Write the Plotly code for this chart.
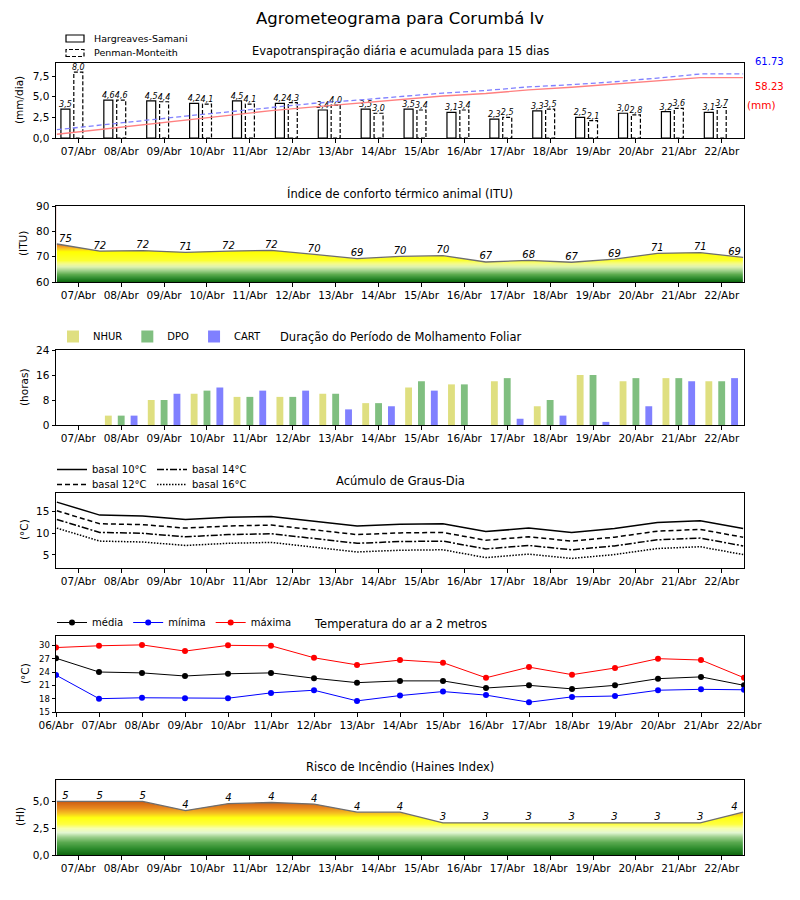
import numpy as np
import plotly.graph_objects as go

W, H = 800, 900
FONT = "DejaVu Sans"

# ---------------- data ----------------
dias = ["07/Abr", "08/Abr", "09/Abr", "10/Abr", "11/Abr", "12/Abr", "13/Abr", "14/Abr",
        "15/Abr", "16/Abr", "17/Abr", "18/Abr", "19/Abr", "20/Abr", "21/Abr", "22/Abr"]
dias_temp = ["06/Abr", "07/Abr", "08/Abr", "09/Abr", "10/Abr", "11/Abr", "12/Abr", "13/Abr",
             "14/Abr", "15/Abr", "16/Abr", "17/Abr", "18/Abr", "19/Abr", "20/Abr", "21/Abr", "22/Abr"]

et_hs = [3.5, 4.6, 4.5, 4.2, 4.5, 4.2, 3.4, 3.5, 3.5, 3.1, 2.3, 3.3, 2.5, 3.0, 3.2, 3.1]
et_pm = [8.0, 4.6, 4.4, 4.1, 4.1, 4.3, 4.0, 3.0, 3.4, 3.4, 2.5, 3.5, 2.1, 2.8, 3.6, 3.7]
acc_pm = [8.0, 12.6, 17.0, 21.1, 25.2, 29.5, 33.5, 36.5, 39.9, 43.3, 45.8, 49.3, 51.4, 54.2, 57.8, 61.73, 61.73]
acc_hs = [3.6, 8.3, 13.0, 17.4, 22.0, 26.4, 30.0, 33.6, 37.2, 40.5, 42.9, 46.3, 48.9, 52.0, 55.3, 58.23, 58.23]
tot_pm = 61.73
tot_hs = 58.23

itu = [75.0, 72.2, 72.4, 71.7, 72.2, 72.5, 70.9, 69.2, 70.1, 70.4, 67.9, 68.5, 67.8, 69.0, 71.3, 71.6, 69.7]

nhur = [0, 3, 8, 10, 9, 9, 10, 7, 12, 13, 14, 6, 16, 14, 15, 14]
dpo = [0, 3, 8, 11, 9, 9, 10, 7, 14, 13, 15, 8, 16, 15, 15, 14]
cart = [0, 3, 10, 12, 11, 11, 5, 6, 11, 0, 2, 3, 1, 6, 14, 15]

gd10 = [17.2, 14.2, 14.0, 13.2, 13.7, 13.9, 12.8, 11.7, 12.1, 12.2, 10.4, 11.2, 10.2, 11.1, 12.5, 12.9, 11.1]
gd12 = [15.2, 12.2, 12.0, 11.2, 11.7, 11.9, 10.8, 9.7, 10.1, 10.2, 8.4, 9.2, 8.2, 9.1, 10.5, 10.9, 9.1]
gd14 = [13.2, 10.2, 10.0, 9.2, 9.7, 9.9, 8.8, 7.7, 8.1, 8.2, 6.4, 7.2, 6.2, 7.1, 8.5, 8.9, 7.1]
gd16 = [11.2, 8.2, 8.0, 7.2, 7.7, 7.9, 6.8, 5.7, 6.1, 6.2, 4.4, 5.2, 4.2, 5.1, 6.5, 6.9, 5.1]

t_med = [27.1, 24.0, 23.8, 23.1, 23.6, 23.8, 22.6, 21.6, 22.0, 22.0, 20.4, 21.0, 20.2, 21.0, 22.5, 22.9, 21.0]
t_min = [23.3, 18.0, 18.2, 18.1, 18.1, 19.3, 19.9, 17.5, 18.7, 19.6, 18.8, 17.2, 18.4, 18.6, 19.9, 20.1, 20.0]
t_max = [29.5, 29.9, 30.1, 28.7, 30.0, 29.9, 27.2, 25.6, 26.7, 26.1, 22.7, 25.1, 23.4, 24.9, 27.0, 26.7, 22.7]

haines = [5.0, 5.0, 5.0, 4.15, 4.8, 4.9, 4.75, 4.0, 4.0, 3.0, 3.0, 3.0, 3.0, 3.0, 3.0, 3.0, 4.0]

# ---------------- helpers ----------------
idx = np.arange(len(dias))                # bar positions (days)
xs17 = np.arange(len(itu)) - 0.5          # series positions
XR = [-0.52, 15.52]


def px_y(py):
    return 1 - py / H


def ydom(top, bottom):
    return [1 - bottom / H, 1 - top / H]


def fmt_c(v):
    return f"{v:.1f}".replace(".", ",")


def outline(xc, h, w):
    xs, ys = [], []
    for x, v in zip(xc, h):
        xs += [x - w / 2, x - w / 2, x + w / 2, x + w / 2, x - w / 2, None]
        ys += [0, v, v, 0, 0, None]
    return xs, ys


def cscale(stops, lo, hi):
    return [[(v - lo) / (hi - lo), c] for v, c in stops]


fig = go.Figure()

# ---------------- panel 1: ET ----------------
ET_TOP = 9.1
ACC_TOP = 72.3
bw = 0.21
hx, hy = outline(idx - 0.3, et_hs, bw)
fig.add_trace(go.Scatter(x=hx, y=hy, mode="lines", fill="toself", fillcolor="white",
                         line=dict(color="black", width=1.2), showlegend=False,
                         hoverinfo="skip", xaxis="x", yaxis="y"))
pxs, pys = outline(idx, et_pm, bw)
fig.add_trace(go.Scatter(x=pxs, y=pys, mode="lines", fill="toself", fillcolor="white",
                         line=dict(color="black", width=1.2, dash="4px,2px"), showlegend=False,
                         hoverinfo="skip", xaxis="x", yaxis="y"))
fig.add_trace(go.Scatter(x=idx - 0.3, y=et_hs, mode="text", text=[fmt_c(v) for v in et_hs],
                         textposition="top center",
                         textfont=dict(family=FONT, size=8, style="italic", color="black"),
                         showlegend=False, hoverinfo="skip", xaxis="x", yaxis="y"))
fig.add_trace(go.Scatter(x=idx, y=et_pm, mode="text", text=[fmt_c(v) for v in et_pm],
                         textposition="top center",
                         textfont=dict(family=FONT, size=8, style="italic", color="black"),
                         showlegend=False, hoverinfo="skip", xaxis="x", yaxis="y"))
fig.add_trace(go.Scatter(x=xs17, y=acc_pm, mode="lines", line=dict(color="#8080ff", width=1.3, dash="5px,3px"),
                         showlegend=False, hoverinfo="skip", xaxis="x", yaxis="y7"))
fig.add_trace(go.Scatter(x=xs17, y=acc_hs, mode="lines", line=dict(color="#ff8080", width=1.3),
                         showlegend=False, hoverinfo="skip", xaxis="x", yaxis="y7"))

# ---------------- panel 2: ITU ----------------
ITU_LO, ITU_HI = 60, 90
itu_stops = [(60, "#0b650b"), (61.5, "#2f8c2f"), (63, "#5dab4f"), (64.5, "#9fd08a"),
             (66, "#dcf2b0"), (67.2, "#f4fb90"), (68.5, "#fbff30"), (72, "#ffff00"),
             (73.2, "#f9c623"), (74.5, "#ee8a22"), (76, "#e05a10"), (90, "#b00000")]
yy = np.linspace(ITU_LO, ITU_HI, 301)
fig.add_trace(go.Heatmap(x=[-0.5, 7.5, 15.5], y=yy, z=[[v, v] for v in yy],
                         colorscale=cscale(itu_stops, ITU_LO, ITU_HI), zmin=ITU_LO, zmax=ITU_HI,
                         zsmooth="best", showscale=False, hoverinfo="skip", xaxis="x2", yaxis="y2"))
fig.add_trace(go.Scatter(x=xs17, y=itu, mode="lines", line=dict(width=0), showlegend=False,
                         hoverinfo="skip", xaxis="x2", yaxis="y2"))
fig.add_trace(go.Scatter(x=xs17, y=[ITU_HI] * len(xs17), mode="lines", line=dict(width=0),
                         fill="tonexty", fillcolor="white", showlegend=False, hoverinfo="skip",
                         xaxis="x2", yaxis="y2"))
fig.add_trace(go.Scatter(x=xs17, y=itu, mode="lines", line=dict(color="#6e6e6e", width=1.3),
                         showlegend=False, hoverinfo="skip", xaxis="x2", yaxis="y2"))
fig.add_trace(go.Scatter(x=np.clip(xs17, -0.3, 15.3), y=itu, mode="text",
                         text=[str(int(v)) for v in itu], textposition="top center",
                         textfont=dict(family=FONT, size=10, style="italic", color="black"),
                         showlegend=False, hoverinfo="skip", xaxis="x2", yaxis="y2"))

# ---------------- panel 3: Molhamento ----------------
mw = 0.16
for name, vals, off, col in [("NHUR", nhur, -0.3, "#dfdf80"), ("DPO", dpo, 0.0, "#80bf80"),
                             ("CART", cart, 0.3, "#8080ff")]:
    fig.add_trace(go.Bar(x=idx + off, y=vals, width=mw, name=name, marker=dict(color=col, line=dict(width=0)),
                         legend="legend", hoverinfo="skip", xaxis="x3", yaxis="y3"))

# ---------------- panel 4: Graus-dia ----------------
for name, vals, dash, leg in [("basal 10°C", gd10, "solid", "legend2"), ("basal 12°C", gd12, "5px,3px", "legend3"),
                              ("basal 14°C", gd14, "7px,2px,2px,2px", "legend4"),
                              ("basal 16°C", gd16, "1.5px,1.5px", "legend5")]:
    fig.add_trace(go.Scatter(x=xs17, y=vals, mode="lines", name=name,
                             line=dict(color="black", width=1.5, dash=dash), legend=leg,
                             hoverinfo="skip", xaxis="x4", yaxis="y4"))

# ---------------- panel 5: Temperatura ----------------
tx = np.arange(len(dias_temp))
for name, vals, col in [("média", t_med, "black"), ("mínima", t_min, "blue"), ("máxima", t_max, "red")]:
    fig.add_trace(go.Scatter(x=tx, y=vals, mode="lines+markers", name=name,
                             line=dict(color=col, width=1), marker=dict(color=col, size=6),
                             legend="legend6", hoverinfo="skip", xaxis="x5", yaxis="y5"))

# ---------------- panel 6: Haines ----------------
HI_LO, HI_HI = 0, 7
hi_stops = [(0, "#0d650d"), (0.6, "#2b8a2b"), (1.2, "#5aaa50"), (1.7, "#9ccf8c"), (2.1, "#e2f6d2"),
            (2.5, "#f6ffb0"), (2.9, "#ffff40"), (3.5, "#ffff10"), (3.9, "#f6c420"), (4.4, "#e8881e"),
            (5.0, "#cd5e12"), (7, "#a04000")]
yh = np.linspace(HI_LO, HI_HI, 301)
fig.add_trace(go.Heatmap(x=[-0.5, 7.5, 15.5], y=yh, z=[[v, v] for v in yh],
                         colorscale=cscale(hi_stops, HI_LO, HI_HI), zmin=HI_LO, zmax=HI_HI,
                         zsmooth="best", showscale=False, hoverinfo="skip", xaxis="x6", yaxis="y6"))
fig.add_trace(go.Scatter(x=xs17, y=haines, mode="lines", line=dict(width=0), showlegend=False,
                         hoverinfo="skip", xaxis="x6", yaxis="y6"))
fig.add_trace(go.Scatter(x=xs17, y=[HI_HI] * len(xs17), mode="lines", line=dict(width=0),
                         fill="tonexty", fillcolor="white", showlegend=False, hoverinfo="skip",
                         xaxis="x6", yaxis="y6"))
fig.add_trace(go.Scatter(x=xs17, y=haines, mode="lines", line=dict(color="#6e6e6e", width=1.3),
                         showlegend=False, hoverinfo="skip", xaxis="x6", yaxis="y6"))
fig.add_trace(go.Scatter(x=np.clip(xs17, -0.3, 15.3), y=haines, mode="text",
                         text=[str(int(v)) for v in haines], textposition="top center",
                         textfont=dict(family=FONT, size=10, style="italic", color="black"),
                         showlegend=False, hoverinfo="skip", xaxis="x6", yaxis="y6"))

# ---------------- layout ----------------
tickf = dict(family=FONT, size=10.5, color="black")
base = dict(showline=True, linecolor="black", linewidth=1, mirror=True, ticks="outside",
            ticklen=3.5, tickwidth=1, tickcolor="black", showgrid=False, zeroline=False,
            tickfont=tickf, fixedrange=True, automargin=False)
XDOM = [56 / W, 744 / W]
panels = [(63, 138), (206, 282), (350, 425), (493, 568), (636, 712), (780, 855)]

lay = {}
for k, (top, bot) in enumerate(panels, start=1):
    sx = "" if k == 1 else str(k)
    xa = dict(base, domain=XDOM, anchor="y" + sx)
    if k == 5:
        xa.update(range=[0, 16], tickvals=list(tx), ticktext=dias_temp)
    else:
        xa.update(range=XR, tickvals=list(idx), ticktext=dias)
    lay["xaxis" + sx] = xa
    lay["yaxis" + sx] = dict(base, domain=ydom(top, bot), anchor="x" + sx)

lay["yaxis"].update(range=[0, ET_TOP], tickvals=[0, 2.5, 5, 7.5], ticktext=[fmt_c(v) for v in [0, 2.5, 5, 7.5]])
lay["yaxis2"].update(range=[ITU_LO, ITU_HI], tickvals=[60, 70, 80, 90])
lay["yaxis3"].update(range=[0, 24], tickvals=[0, 8, 16, 24])
lay["yaxis4"].update(range=[2, 19.3], tickvals=[5, 10, 15])
lay["yaxis5"].update(range=[15, 32.1], tickvals=[15, 18, 21, 24, 27, 30], tickfont=dict(tickf, size=8.5))
lay["yaxis6"].update(range=[HI_LO, HI_HI], tickvals=[0, 2.5, 5], ticktext=[fmt_c(v) for v in [0, 2.5, 5]])
lay["yaxis7"] = dict(overlaying="y", range=[0, ACC_TOP], visible=False, fixedrange=True, automargin=False)

legf = dict(family=FONT, size=10, color="black")


def leg(x, ytop, orient="v"):
    return dict(orientation=orient, x=x / W, y=px_y(ytop), xanchor="left", yanchor="top",
                font=legf, bgcolor="rgba(0,0,0,0)", itemwidth=30, traceorder="normal")


lay["legend"] = leg(53, 322, "h")
lay["legend2"] = leg(52, 455)
lay["legend3"] = leg(52, 470)
lay["legend4"] = leg(152, 455)
lay["legend5"] = leg(152, 470)
lay["legend6"] = leg(52, 608, "h")

ann = []


def txt(x, y, s, size, color="black", angle=0, xanchor="center", italic=False):
    ann.append(dict(x=x / W, y=px_y(y), xref="paper", yref="paper", text=s, showarrow=False,
                    xanchor=xanchor, yanchor="middle", textangle=angle,
                    font=dict(family=FONT, size=size, color=color, style="italic" if italic else "normal")))


txt(400, 18, "Agrometeograma para Corumbá Iv", 16.5)
titles = [(51, "Evapotranspiração diária e acumulada para 15 dias"),
          (194, "Índice de conforto térmico animal (ITU)"),
          (337, "Duração do Período de Molhamento Foliar"),
          (481, "Acúmulo de Graus-Dia"),
          (624, "Temperatura do ar a 2 metros"),
          (767, "Risco de Incêndio (Haines Index)")]
for y, s in titles:
    txt(400, y, s, 11.5)
for x, y, s in [(19, 100, "(mm/dia)"), (23, 244, "(ITU)"), (24, 387, "(horas)"),
                (24, 530, "(°C)"), (25, 674, "(°C)"), (20, 817, "(HI)")]:
    txt(x, y, s, 10.5, angle=-90)
txt(769, 61, f"{tot_pm:.2f}", 10, color="blue")
txt(769, 86, f"{tot_hs:.2f}", 10, color="red")
txt(761, 105, "(mm)", 10.5, color="red")
# ET legend (text)
txt(92, 38.5, "Hargreaves-Samani", 9.5, xanchor="left")
txt(92, 53, "Penman-Monteith", 9.5, xanchor="left")

shapes = [
    dict(type="rect", xref="paper", yref="paper", x0=66 / W, x1=84 / W, y0=px_y(42), y1=px_y(35),
         line=dict(color="black", width=1.2), fillcolor="white"),
    dict(type="rect", xref="paper", yref="paper", x0=66 / W, x1=84 / W, y0=px_y(56.5), y1=px_y(49.5),
         line=dict(color="black", width=1.2, dash="4px,2px"), fillcolor="white"),
]

fig.update_layout(width=W, height=H, margin=dict(l=0, r=0, t=0, b=0, autoexpand=False), paper_bgcolor="white",
                  plot_bgcolor="white", barmode="overlay", font=dict(family=FONT, color="black"),
                  annotations=ann, shapes=shapes, **lay)

fig.write_html("out.html", config={"displayModeBar": False},
               post_script="document.body.style.margin='0px';document.body.style.overflow='hidden';")
